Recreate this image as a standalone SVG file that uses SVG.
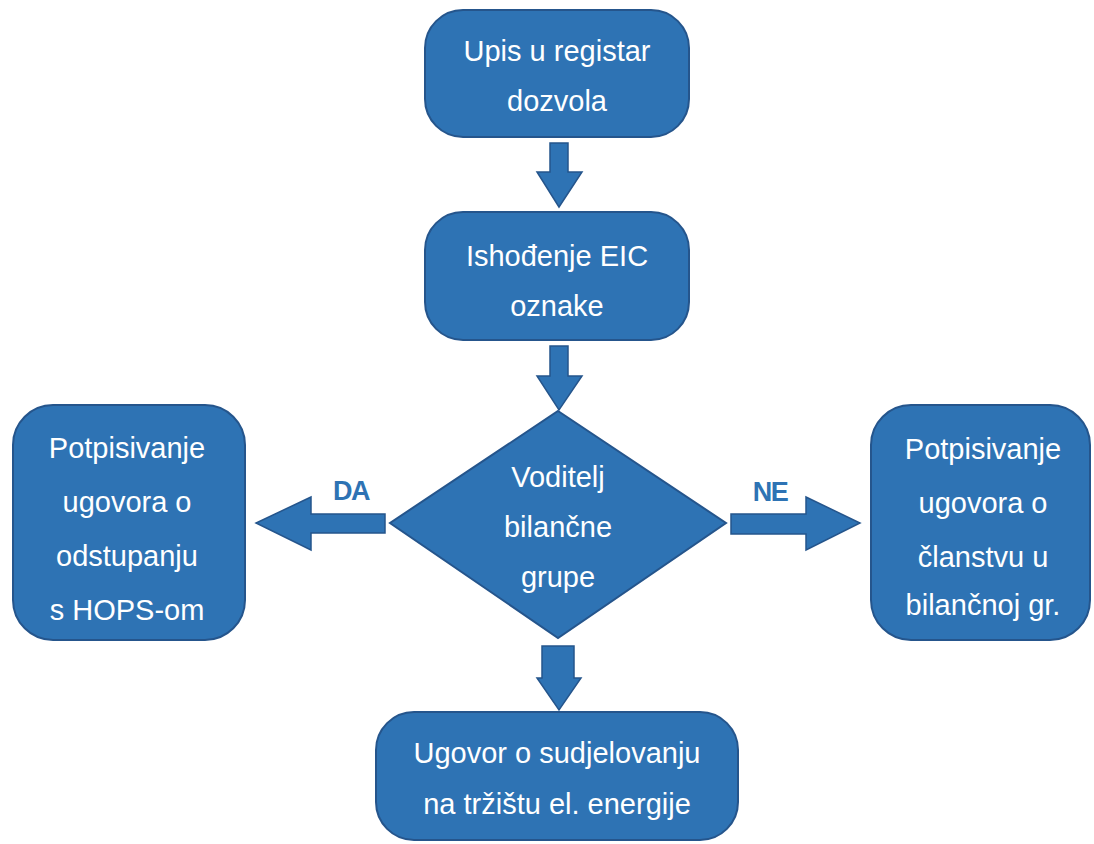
<svg xmlns="http://www.w3.org/2000/svg" width="1094" height="844" viewBox="0 0 1094 844">
<style>
.shape{fill:#2E73B4;stroke:#25558C;stroke-width:2}
.arr{fill:#2E73B4;stroke:#25558C;stroke-width:1.5}
.t{font-family:"Liberation Sans",Arial,sans-serif;font-size:29px;fill:#FFFFFF;text-anchor:middle}
.lbl{font-family:"Liberation Sans",Arial,sans-serif;font-size:27px;font-weight:bold;fill:#2E73B4;text-anchor:middle;letter-spacing:-1.5px}
</style>
<rect width="1094" height="844" fill="#FFFFFF"/>
<g id="connectors">
<polygon class="arr" points="550,143 568,143 568,172 582,172 559,207 537,172 550,172"/>
<polygon class="arr" points="550,346 568,346 568,376 582,376 559,410 537,376 550,376"/>
<polygon class="arr" points="385,514 385,533 311,533 311,550 256,523 311,497 311,514"/>
<polygon class="arr" points="731,514 731,534 806,534 806,550 860,523 806,497 806,514"/>
<polygon class="arr" points="542,646 574,646 574,678 581,678 559,710 537,678 542,678"/>
<text class="lbl" x="351" y="500">DA</text>
<text class="lbl" x="770" y="501">NE</text>
</g>
<g id="n1">
<rect class="shape" x="425" y="10" width="264" height="127" rx="38"/>
<text class="t" x="557" y="61">Upis u registar</text>
<text class="t" x="557" y="111">dozvola</text>
</g>
<g id="n2">
<rect class="shape" x="425" y="212" width="264" height="128" rx="38"/>
<text class="t" x="557" y="266">Ishođenje EIC</text>
<text class="t" x="557" y="316">oznake</text>
</g>
<g id="n3">
<polygon class="shape" points="558,411 726,523 558,638 390,523"/>
<text class="t" x="558" y="487">Voditelj</text>
<text class="t" x="558" y="537">bilančne</text>
<text class="t" x="558" y="587">grupe</text>
</g>
<g id="n4">
<rect class="shape" x="13" y="405" width="232" height="235" rx="40"/>
<text class="t" x="127" y="458">Potpisivanje</text>
<text class="t" x="127" y="512">ugovora o</text>
<text class="t" x="127" y="566">odstupanju</text>
<text class="t" x="127" y="620">s HOPS-om</text>
</g>
<g id="n5">
<rect class="shape" x="871" y="405" width="219" height="235" rx="40"/>
<text class="t" x="983" y="459">Potpisivanje</text>
<text class="t" x="983" y="513">ugovora o</text>
<text class="t" x="983" y="567">članstvu u</text>
<text class="t" x="983" y="615">bilančnoj gr.</text>
</g>
<g id="n6">
<rect class="shape" x="376" y="712" width="362" height="128" rx="38"/>
<text class="t" x="557" y="763">Ugovor o sudjelovanju</text>
<text class="t" x="557" y="814">na tržištu el. energije</text>
</g>
</svg>
